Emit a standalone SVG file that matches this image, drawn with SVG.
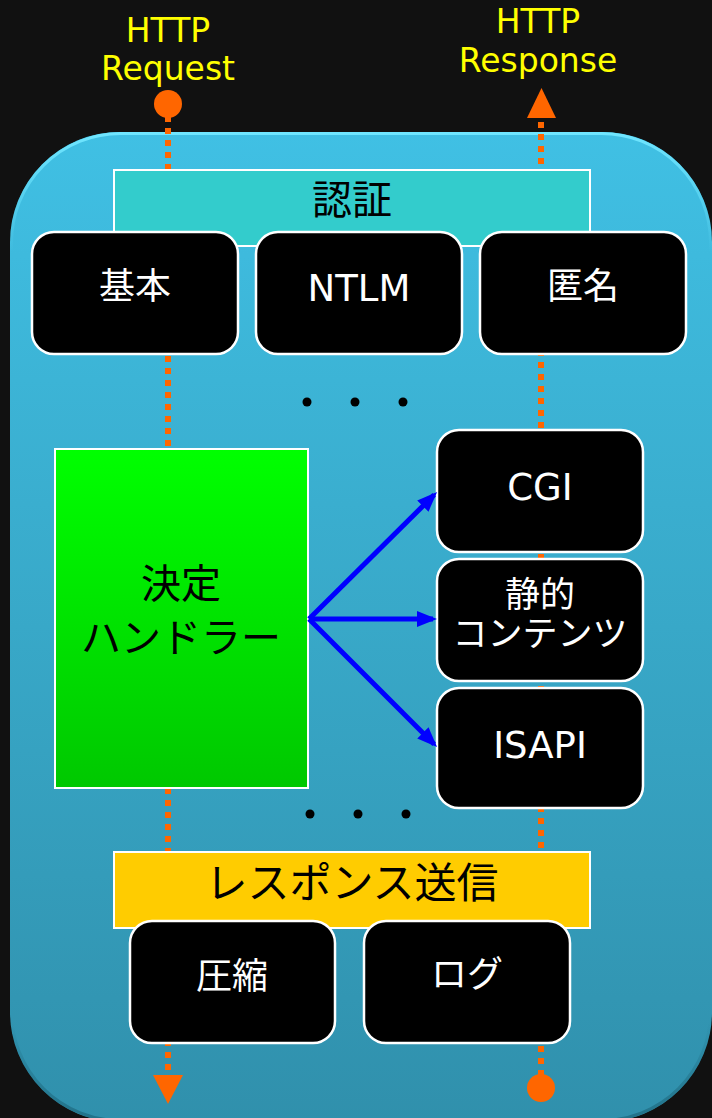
<svg xmlns="http://www.w3.org/2000/svg" width="712" height="1118" viewBox="0 0 712 1118">
<defs>
<linearGradient id="panelG" x1="0" y1="0" x2="0" y2="1">
<stop offset="0" stop-color="#40C0E4"/>
<stop offset="1" stop-color="#3090AC"/>
</linearGradient>
<linearGradient id="rimG" x1="0" y1="0" x2="0" y2="1">
<stop offset="0" stop-color="#70E6FF" stop-opacity="1"/>
<stop offset="0.12" stop-color="#70E6FF" stop-opacity="0"/>
<stop offset="0.9" stop-color="#1E6A80" stop-opacity="0"/>
<stop offset="1" stop-color="#1E6A80" stop-opacity="0.8"/>
</linearGradient>
<linearGradient id="greenG" x1="0" y1="0" x2="0" y2="1">
<stop offset="0" stop-color="#00FF00"/>
<stop offset="1" stop-color="#00C800"/>
</linearGradient>
<marker id="blueHead" viewBox="0 0 20 16" markerUnits="userSpaceOnUse" markerWidth="20" markerHeight="16" refX="16" refY="8" orient="auto">
<path d="M0,0 L20,8 L0,16 Z" fill="#0000FF"/>
</marker>
<style>
.box{fill:#000;stroke:#fff;stroke-width:2.5}
.wt{fill:#fff;font-family:'DejaVu Sans','Noto Sans CJK JP',sans-serif;text-anchor:middle}
.bk{fill:#000;font-family:'DejaVu Sans','Noto Sans CJK JP',sans-serif;text-anchor:middle}
.yl{fill:#FFFF00;font-family:'DejaVu Sans',sans-serif;font-size:33px;text-anchor:middle}
.dot{stroke:#FF6600;stroke-width:6;stroke-dasharray:6 6;fill:none}
.blue{stroke:#0000FF;stroke-width:5;fill:none;marker-end:url(#blueHead)}
.org{fill:#FF6600}
</style>
</defs>
<rect x="0" y="0" width="712" height="1118" fill="#111111"/>
<g id="panel">
<rect x="10" y="132" width="702" height="990" rx="110" fill="url(#panelG)"/>
<rect x="11.5" y="133.5" width="699" height="987" rx="109" fill="none" stroke="url(#rimG)" stroke-width="3"/>
</g>
<g id="labels">
<text class="yl" x="168" y="42">HTTP</text>
<text class="yl" x="168" y="80">Request</text>
<text class="yl" x="538" y="33">HTTP</text>
<text class="yl" x="538" y="72">Response</text>
</g>
<g id="connectors">
<line class="dot" x1="168" y1="116" x2="168" y2="1076"/>
<line class="dot" x1="541" y1="122" x2="541" y2="1076"/>
<circle class="org" cx="168" cy="104" r="14"/>
<polygon class="org" points="527,118 556,118 541.5,88"/>
<polygon class="org" points="153,1075 183,1075 168,1104"/>
<circle class="org" cx="541" cy="1088" r="14"/>
</g>
<g id="auth">
<rect x="114" y="170" width="476" height="76" fill="#33CCCC" stroke="#fff" stroke-width="2"/>
<text class="bk" x="352" y="214" font-size="40">認証</text>
</g>
<g id="basic">
<rect class="box" x="32" y="232" width="206" height="122" rx="22"/>
<text class="wt" x="135" y="299" font-size="36">基本</text>
</g>
<g id="ntlm">
<rect class="box" x="256" y="232" width="206" height="122" rx="22"/>
<text class="wt" x="359" y="301" font-size="37">NTLM</text>
</g>
<g id="anon">
<rect class="box" x="480" y="232" width="206" height="122" rx="22"/>
<text class="wt" x="583" y="299" font-size="36">匿名</text>
</g>
<g id="dots1">
<circle cx="307" cy="402" r="4.5" fill="#000"/>
<circle cx="355" cy="402" r="4.5" fill="#000"/>
<circle cx="403" cy="402" r="4.5" fill="#000"/>
</g>
<g id="handler">
<rect x="55" y="449" width="253" height="339" fill="url(#greenG)" stroke="#fff" stroke-width="2"/>
<text class="bk" x="181" y="598" font-size="40">決定</text>
<text class="bk" x="181" y="652" font-size="40">ハンドラー</text>
</g>
<g id="cgi">
<rect class="box" x="437" y="430" width="206" height="122" rx="22"/>
<text class="wt" x="540" y="500" font-size="37">CGI</text>
</g>
<g id="static">
<rect class="box" x="437" y="559" width="206" height="122" rx="22"/>
<text class="wt" x="540" y="607" font-size="35">静的</text>
<text class="wt" x="540" y="646" font-size="35">コンテンツ</text>
</g>
<g id="isapi">
<rect class="box" x="437" y="688" width="206" height="120" rx="22"/>
<text class="wt" x="540" y="758" font-size="37">ISAPI</text>
</g>
<g id="arrows">
<line class="blue" x1="309" y1="619" x2="434.2" y2="494.8"/>
<line class="blue" x1="309" y1="619" x2="433" y2="619"/>
<line class="blue" x1="309" y1="619" x2="434.2" y2="744.2"/>
</g>
<g id="dots2">
<circle cx="310" cy="814" r="4.5" fill="#000"/>
<circle cx="358" cy="814" r="4.5" fill="#000"/>
<circle cx="406" cy="814" r="4.5" fill="#000"/>
</g>
<g id="send">
<rect x="114" y="852" width="476" height="76" fill="#FFCC00" stroke="#fff" stroke-width="2"/>
<text class="bk" x="352" y="898" font-size="42">レスポンス送信</text>
</g>
<g id="compress">
<rect class="box" x="130" y="921" width="205" height="122" rx="22"/>
<text class="wt" x="232" y="989" font-size="36">圧縮</text>
</g>
<g id="log">
<rect class="box" x="364" y="921" width="206" height="122" rx="22"/>
<text class="wt" x="467" y="987" font-size="36">ログ</text>
</g>
</svg>
